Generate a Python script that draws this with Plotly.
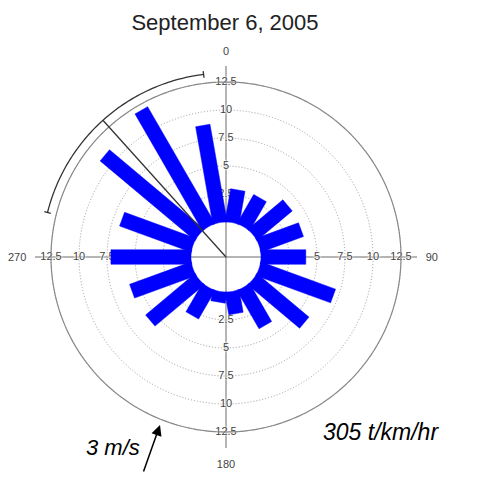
import numpy as np
import plotly.graph_objects as go

# ---------------- data ----------------
title_text = "September 6, 2005"
directions = [10, 30, 50, 70, 90, 110, 130, 150, 170, 190, 210, 230, 250, 270, 290, 310, 330, 350]
values = [2.95, 2.95, 4.05, 4.0, 4.0, 7.05, 6.0, 3.9, 2.0, 0.95, 2.9, 5.7, 5.8, 7.15, 6.75, 11.0, 12.0, 8.8]
radial_ticks = [2.5, 5, 7.5, 10, 12.5]
radial_tick_labels = ["2.5", "5", "7.5", "10", "12.5"]
compass_ticks = [0, 90, 180, 270]
compass_labels = ["0", "90", "180", "270"]
mean_direction = 318
direction_range = [284, 353]
wind_label = "3 m/s"
flux_label = "305 t/km/hr"

# ---------------- styling constants ----------------
HOLE = 3.125      # radial offset of the empty centre (data units)
HALF_W = 0.65     # half width of the rectangular bars (data units)
R_MAX = 13.93
ARC_R = 13.3
FONT = "Liberation Sans, Arial, sans-serif"
W, H = 490, 481
CX, CY, PR = 226, 257, 191  # centre and radius in pixels

fig = go.Figure()

# radial tick labels on the four axes
lab_r, lab_t, lab_txt = [], [], []
for ang in compass_ticks:
    for rv, lt in zip(radial_ticks, radial_tick_labels):
        lab_r.append(rv)
        lab_t.append(ang)
        lab_txt.append(lt)
fig.add_trace(go.Scatterpolar(
    r=lab_r, theta=lab_t, text=lab_txt, mode="text",
    textfont=dict(size=11, color="#444", family=FONT,
                  shadow="white 0 0 2px, white 0 0 2px, white 0 0 3px"),
    showlegend=False, hoverinfo="skip"))

# outer solid circle at the last radial tick
circ_t = np.linspace(0, 360, 361)
fig.add_trace(go.Scatterpolar(
    r=[radial_ticks[-1]] * len(circ_t), theta=circ_t, mode="lines",
    line=dict(color="#8a8a8a", width=1.2), showlegend=False, hoverinfo="skip"))

# rectangular bars
alpha = np.degrees(np.arcsin(HALF_W / HOLE))
for th, v in zip(directions, values):
    D = v + HOLE
    beta = np.degrees(np.arctan(HALF_W / D))
    rho = np.hypot(D, HALF_W) - HOLE
    arc = list(np.linspace(th - alpha, th + alpha, 11))
    thetas = arc + [th + beta, th - beta, th - alpha]
    rs = [0] * len(arc) + [rho, rho, 0]
    fig.add_trace(go.Scatterpolar(
        r=rs, theta=thetas, mode="lines", fill="toself",
        fillcolor="#0000ff", line=dict(color="#0000ff", width=0.5),
        showlegend=False, hoverinfo="skip"))

# mean direction line
fig.add_trace(go.Scatterpolar(
    r=[-HOLE, ARC_R], theta=[mean_direction, mean_direction], mode="lines",
    line=dict(color="#333", width=1.3), showlegend=False, hoverinfo="skip"))

# direction range arc with end ticks
arc_t = np.linspace(direction_range[0], direction_range[1], 80)
fig.add_trace(go.Scatterpolar(
    r=[ARC_R] * len(arc_t), theta=arc_t, mode="lines",
    line=dict(color="#333", width=1.3), showlegend=False, hoverinfo="skip"))
for t_end in direction_range:
    fig.add_trace(go.Scatterpolar(
        r=[ARC_R - 0.3, ARC_R + 0.3], theta=[t_end, t_end], mode="lines",
        line=dict(color="#333", width=1.3), showlegend=False, hoverinfo="skip"))

fig.update_layout(
    width=W, height=H,
    margin=dict(l=0, r=0, t=0, b=0),
    paper_bgcolor="white",
    title=dict(text=title_text, x=225 / W, xanchor="center", y=(H - 22) / H, yanchor="middle",
               font=dict(size=22, color="#222", family=FONT)),
    polar=dict(
        domain=dict(x=[(CX - PR) / W, (CX + PR) / W],
                    y=[(H - CY - PR) / H, (H - CY + PR) / H]),
        bgcolor="white",
        radialaxis=dict(range=[-HOLE, R_MAX], tickmode="array", tickvals=radial_ticks,
                        showticklabels=False, ticks="", showline=False,
                        showgrid=True, gridcolor="#9a9a9a", griddash="1px,2px", gridwidth=1),
        angularaxis=dict(rotation=90, direction="clockwise", tickmode="array",
                         tickvals=compass_ticks, ticktext=compass_labels,
                         showline=False, ticks="outside", ticklen=6,
                         tickcolor="rgba(0,0,0,0)", showgrid=True,
                         gridcolor="#6a6a6a", gridwidth=1,
                         tickfont=dict(size=11, color="#444", family=FONT)),
    ),
    annotations=[
        dict(x=160 / W, y=(H - 425) / H, xref="paper", yref="paper", text="",
             showarrow=True, ax=-17, ay=48, arrowhead=2, arrowsize=1.4,
             arrowwidth=1.5, arrowcolor="black"),
        dict(x=113 / W, y=(H - 447) / H, xref="paper", yref="paper", text=wind_label,
             showarrow=False, font=dict(size=22, color="black", family=FONT,
                                        style="italic"),
             xanchor="center", yanchor="middle"),
        dict(x=381 / W, y=(H - 432) / H, xref="paper", yref="paper", text=flux_label,
             showarrow=False, font=dict(size=23, color="black", family=FONT,
                                        style="italic"),
             xanchor="center", yanchor="middle"),
    ],
)

fig.write_html("out.html")
